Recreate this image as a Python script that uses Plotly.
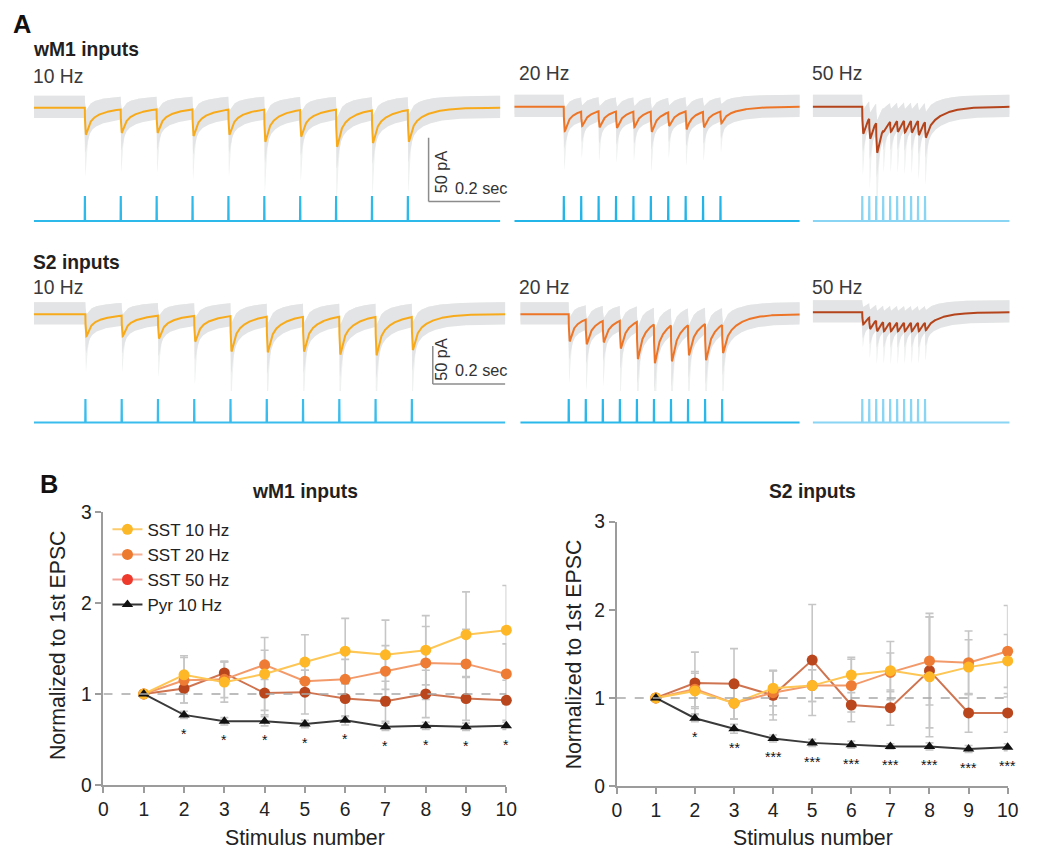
import numpy as np
import plotly.graph_objects as go

W, H = 1050, 859
FONT = "Arial, Liberation Sans, Helvetica, sans-serif"

# ---------------- DATA ----------------
pulse_onset_ms = 142
n_pulses = 10
dur_10hz_ms, dur_20hz_ms, dur_50hz_ms = 1300, 820, 565
wm1_10hz_pA = [21, 19.5, 19.5, 22, 21, 26.5, 22.5, 30.5, 27.5, 26.5]
wm1_20hz_pA = [19, 15, 16, 16.5, 16, 19.5, 15, 17.5, 16, 13]
wm1_50hz_pA = [21, 25, 36, 19, 19.5, 19.5, 20, 20, 22, 24]
s2_10hz_pA = [29, 29, 32, 36, 49, 50, 49, 53, 54, 47]
s2_20hz_pA = [35.5, 39.5, 37, 45, 59, 64.5, 62, 54, 60.5, 51]
s2_50hz_pA = [16, 22, 25, 25, 25, 25, 25, 25, 25, 23.5]
scalebar_pA, scalebar_ms = 50, 200

stim_number = [1, 2, 3, 4, 5, 6, 7, 8, 9, 10]
wm1_sst10 = [1, 1.21, 1.13, 1.22, 1.35, 1.47, 1.43, 1.48, 1.65, 1.70]
wm1_sst20 = [1, 1.15, 1.16, 1.32, 1.14, 1.16, 1.25, 1.34, 1.33, 1.22]
wm1_sst50 = [1, 1.06, 1.23, 1.01, 1.02, 0.95, 0.92, 1.00, 0.95, 0.93]
wm1_pyr10 = [1, 0.77, 0.70, 0.70, 0.67, 0.71, 0.64, 0.65, 0.64, 0.65]
wm1_sst10_err = [0, 0.21, 0.22, 0.40, 0.30, 0.36, 0.38, 0.38, 0.47, 0.49]
wm1_sst20_err = [0, 0.25, 0.20, 0.16, 0.12, 0.22, 0.28, 0.40, 0.38, 0.33]
wm1_sst50_err = [0, 0.16, 0.12, 0.24, 0.24, 0.20, 0.22, 0.26, 0.24, 0.22]
wm1_pyr10_err = [0, 0.04, 0.04, 0.05, 0.04, 0.05, 0.04, 0.04, 0.04, 0.04]
wm1_stars = ["", "*", "*", "*", "*", "*", "*", "*", "*", "*"]

s2_sst10 = [1, 1.08, 0.94, 1.11, 1.14, 1.26, 1.31, 1.24, 1.35, 1.42]
s2_sst20 = [1, 1.10, 0.94, 1.06, 1.14, 1.14, 1.29, 1.42, 1.40, 1.53]
s2_sst50 = [1, 1.17, 1.16, 1.03, 1.43, 0.92, 0.89, 1.31, 0.83, 0.83]
s2_pyr10 = [1, 0.77, 0.65, 0.54, 0.49, 0.47, 0.45, 0.45, 0.42, 0.44]
s2_sst10_err = [0, 0.20, 0.18, 0.20, 0.18, 0.20, 0.33, 0.68, 0.31, 0.30]
s2_sst20_err = [0, 0.20, 0.18, 0.25, 0.18, 0.30, 0.22, 0.50, 0.36, 0.52]
s2_sst50_err = [0, 0.35, 0.40, 0.28, 0.63, 0.19, 0.20, 0.65, 0.22, 0.22]
s2_pyr10_err = [0, 0.04, 0.05, 0.04, 0.04, 0.04, 0.03, 0.04, 0.04, 0.04]
s2_stars = ["", "*", "**", "***", "***", "***", "***", "***", "***", "***"]

legend_labels = ["SST 10 Hz", "SST 20 Hz", "SST 50 Hz", "Pyr 10 Hz"]

# ---------------- helpers ----------------
# positions below are given in reference-image pixels; the conversion
# compensates the small offset/scale observed between layout and snapshot
SX, OX, SY, OY = 0.99, 3.0, 0.978, 10.0

def PX(x):
    return ((x - OX) / SX) / W

def PY(y):
    return 1 - ((y - OY) / SY) / H

def fs(s):
    return round(s / ((SX + SY) / 2), 1)

TR, TF, TS, AF = 1.2, 8.0, 45.0, 0.55

def kern(s):
    s = np.asarray(s, dtype=float)
    sp = np.clip(s, 0, None)
    k = (1 - np.exp(-sp / TR)) * (AF * np.exp(-sp / TF) + (1 - AF) * np.exp(-sp / TS))
    return np.where(s > 0, k, 0.0)

def kfast(s):
    s = np.asarray(s, dtype=float)
    sp = np.clip(s, 0, None)
    return np.where(s > 0, (1 - np.exp(-sp / 1.0)) * np.exp(-sp / 4.0) / 0.55, 0.0)

_fine = np.arange(0, 60, 0.05)
_kf = kern(_fine)
KPEAK = _kf.max()
TPEAK = _fine[_kf.argmax()]

def kn(s):
    return kern(s) / KPEAK

def build_trace(freq, dur, depths, dt=0.5):
    isi = 1000.0 / freq
    tp = np.array([pulse_onset_ms + k * isi for k in range(n_pulses)])
    amps = []
    for k in range(n_pulses):
        r = sum(amps[j] * kn(tp[k] + TPEAK - tp[j]) for j in range(k))
        amps.append(max(depths[k] - float(r), 0.5))
    t = np.arange(0, dur + dt, dt)
    y = np.zeros_like(t)
    spike = np.zeros_like(t)
    for a, d, tk in zip(amps, depths, tp):
        y -= a * kn(t - tk)
        spike -= d * kfast(t - tk)
    stim = np.zeros_like(t)
    for tk in tp:
        stim[(t >= tk) & (t < tk + 1.0)] = 1.0
    return t, y, spike, stim

fig = go.Figure()
layout_axes = {}

panels = [
    (10, dur_10hz_ms, wm1_10hz_pA, 32, 501, 108, 1.28, 86, 206, 221.5, 197.5, (192, 226), "#F7AB1C", "#2DBAEA"),
    (20, dur_20hz_ms, wm1_20hz_pA, 515, 802, 107, 1.28, 86, 206, 221.5, 197.5, (192, 226), "#EC7528", "#24B5E8"),
    (50, dur_50hz_ms, wm1_50hz_pA, 815, 1013, 107, 1.28, 86, 206, 221.5, 197.5, (192, 226), "#B4441C", "#8AD4F4"),
    (10, dur_10hz_ms, s2_10hz_pA, 32, 506, 315, 0.76, 293, 392, 423.5, 401, (396, 428), "#F7AB1C", "#3ABDEC"),
    (20, dur_20hz_ms, s2_20hz_pA, 521, 802, 315, 0.76, 293, 392, 423.5, 401, (396, 428), "#EC7528", "#2AB7E9"),
    (50, dur_50hz_ms, s2_50hz_pA, 815, 1013, 313, 0.76, 293, 392, 423.5, 401, (396, 428), "#B4441C", "#8AD4F4"),
]

for i, (freq, dur, depths, x0, x1, base, gain, dtop, dbot, sbase, stop, sdom, col, scol) in enumerate(panels):
    xa = f"x{3 + i}"
    ya = f"y{3 + i}"
    ys = f"y{9 + i}"
    t, y, spike, stim = build_trace(freq, dur, depths)
    w = 12.0 / gain
    upper = 0.55 * y + w
    lower_in = y - 0.85 * w + 0.35 * spike
    lower_out = y - 0.6 * w + 1.4 * spike
    fig.add_trace(go.Scatter(x=np.concatenate([t, t[::-1]]), y=np.concatenate([upper, lower_out[::-1]]),
                             fill="toself", fillcolor="#EFF0F0", line=dict(width=0), mode="lines",
                             xaxis=xa, yaxis=ya, showlegend=False, hoverinfo="skip"))
    fig.add_trace(go.Scatter(x=np.concatenate([t, t[::-1]]), y=np.concatenate([upper, lower_in[::-1]]),
                             fill="toself", fillcolor="#E3E4E5", line=dict(width=0), mode="lines",
                             xaxis=xa, yaxis=ya, showlegend=False, hoverinfo="skip"))
    fig.add_trace(go.Scatter(x=t, y=y, mode="lines", line=dict(color=col, width=2),
                             xaxis=xa, yaxis=ya, showlegend=False))
    fig.add_trace(go.Scatter(x=t, y=stim, mode="lines", line=dict(color=scol, width=2),
                             xaxis=xa, yaxis=ys, showlegend=False))
    layout_axes[f"xaxis{3 + i}"] = dict(domain=[PX(x0), PX(x1)], range=[0, dur], visible=False,
                                        anchor=ya, fixedrange=True)
    layout_axes[f"yaxis{3 + i}"] = dict(domain=[PY(dbot), PY(dtop)],
                                        range=[-(dbot - base) / gain, (base - dtop) / gain],
                                        visible=False, anchor=xa)
    spp = 1.0 / (sbase - stop)
    layout_axes[f"yaxis{9 + i}"] = dict(domain=[PY(sdom[1]), PY(sdom[0])],
                                        range=[-(sdom[1] - sbase) * spp, 1 + (stop - sdom[0]) * spp],
                                        visible=False, anchor=xa)

shapes = []
for xa, ya, ytop_pA in [("x3", "y3", -23.5), ("x6", "y6", -42.0)]:
    t0 = 1100
    shapes.append(dict(type="line", xref=xa, yref=ya, x0=t0, x1=t0, y0=ytop_pA, y1=ytop_pA - scalebar_pA,
                       line=dict(color="#8C8C8C", width=1.5)))
    shapes.append(dict(type="line", xref=xa, yref=ya, x0=t0, x1=t0 + scalebar_ms,
                       y0=ytop_pA - scalebar_pA, y1=ytop_pA - scalebar_pA,
                       line=dict(color="#8C8C8C", width=1.5)))

annotations = []

def txt(text, x, y, size, bold=False, xanchor="left", color="#222222", angle=0, yanchor="middle"):
    annotations.append(dict(text=f"<b>{text}</b>" if bold else text, x=PX(x), y=PY(y), xref="paper", yref="paper",
                            showarrow=False, xanchor=xanchor, yanchor=yanchor, textangle=angle,
                            font=dict(family=FONT, size=fs(size), color=color)))

txt("A", 9, 24, 25, bold=True, color="#111")
txt("wM1 inputs", 29, 50, 19, bold=True, color="#231F20")
txt("10 Hz", 29, 77, 19, color="#3A3A3A")
txt("20 Hz", 518, 74, 19, color="#3A3A3A")
txt("50 Hz", 812, 74, 19, color="#3A3A3A")
txt("S2 inputs", 29, 263, 19, bold=True, color="#231F20")
txt("10 Hz", 29, 288, 19, color="#3A3A3A")
txt("20 Hz", 518, 288, 19, color="#3A3A3A")
txt("50 Hz", 812, 288, 19, color="#3A3A3A")
txt("50 pA", 441, 172, 16, xanchor="center", angle=-90, color="#333")
txt("0.2 sec", 453, 188, 16, color="#333")
txt("50 pA", 441, 360, 16, xanchor="center", angle=-90, color="#333")
txt("0.2 sec", 453, 371, 16, color="#333")

AXC = "#9C9C9C"

def b_axes(xd, yd, xa, ya):
    return (dict(domain=xd, range=[0, 10], tickvals=list(range(0, 11)), ticks="outside", ticklen=6,
                 tickwidth=1.5, tickcolor=AXC, showline=True, linecolor=AXC, linewidth=2, showgrid=False,
                 zeroline=False, tickfont=dict(family=FONT, size=fs(19), color="#222"), anchor=ya,
                 fixedrange=True),
            dict(domain=yd, range=[0, 3], tickvals=[0, 1, 2, 3], ticks="outside", ticklen=6, tickwidth=1.5,
                 tickcolor=AXC, showline=True, linecolor=AXC, linewidth=2, showgrid=False, zeroline=False,
                 tickfont=dict(family=FONT, size=fs(19), color="#222"), anchor=xa, fixedrange=True))

layout_axes["xaxis"], layout_axes["yaxis"] = b_axes([PX(102), PX(507)], [PY(787), PY(513)], "x", "y")
layout_axes["xaxis2"], layout_axes["yaxis2"] = b_axes([PX(618), PX(1011)], [PY(788), PY(523)], "x2", "y2")

series_style = [
    ("#B9461D", "#CF7450", "circle"),
    ("#EE7C35", "#F39A6B", "circle"),
    ("#FDB727", "#FDC655", "circle"),
    ("#111111", "#3A3A3A", "triangle-up"),
]

for xa, ya, vals, errs, stars in [
    ("x", "y", [wm1_sst50, wm1_sst20, wm1_sst10, wm1_pyr10],
     [wm1_sst50_err, wm1_sst20_err, wm1_sst10_err, wm1_pyr10_err], wm1_stars),
    ("x2", "y2", [s2_sst50, s2_sst20, s2_sst10, s2_pyr10],
     [s2_sst50_err, s2_sst20_err, s2_sst10_err, s2_pyr10_err], s2_stars),
]:
    for v, e in zip(vals, errs):
        fig.add_trace(go.Scatter(x=stim_number, y=v, mode="markers",
                                 marker=dict(size=1, color="rgba(0,0,0,0)"),
                                 error_y=dict(type="data", array=e, visible=True, color="#C6C6C6",
                                              thickness=1.6, width=4),
                                 xaxis=xa, yaxis=ya, showlegend=False, cliponaxis=False, hoverinfo="skip"))
    shapes.append(dict(type="line", xref=xa, yref=ya, x0=0, x1=10, y0=1, y1=1, layer="above",
                       line=dict(color="#A8A8A8", width=1.5, dash="dash")))
    for v, (mc, lc, sym) in zip(vals, series_style):
        fig.add_trace(go.Scatter(x=stim_number, y=v, mode="lines+markers",
                                 line=dict(color=lc, width=2),
                                 marker=dict(color=mc, size=11 if sym == "circle" else 10, symbol=sym),
                                 xaxis=xa, yaxis=ya, showlegend=False, cliponaxis=False))
    pyr = vals[3]
    for xi, yi, s in zip(stim_number, pyr, stars):
        if s:
            annotations.append(dict(text=s, x=xi, y=yi, xref=xa, yref=ya, showarrow=False, yshift=-19,
                                    font=dict(family=FONT, size=14, color="#111")))

legend_style = [("#FBB829", "#FCCB6B", "circle"), ("#EC7A2F", "#F6B093", "circle"),
                ("#EE3A2C", "#F4A39B", "circle"), ("#111111", "#333333", "triangle-up")]
for lab, (mc, lc, sym) in zip(legend_labels, legend_style):
    fig.add_trace(go.Scatter(x=[None], y=[None], mode="lines+markers", name=lab,
                             line=dict(color=lc, width=2),
                             marker=dict(color=mc, size=11 if sym == "circle" else 10, symbol=sym),
                             xaxis="x", yaxis="y"))

txt("B", 36, 485, 25, bold=True, color="#111")
txt("wM1 inputs", 305, 493, 19, bold=True, xanchor="center", color="#231F20")
txt("S2 inputs", 815, 493, 19, bold=True, xanchor="center", color="#231F20")
txt("Stimulus number", 305, 840, 21, xanchor="center", color="#222")
txt("Stimulus number", 815, 840, 21, xanchor="center", color="#222")
txt("Normalized to 1st EPSC", 57, 647, 21, xanchor="center", angle=-90, color="#222")
txt("Normalized to 1st EPSC", 575, 656, 21, xanchor="center", angle=-90, color="#222")

fig.update_layout(
    width=W, height=H, margin=dict(l=0, r=0, t=0, b=0),
    paper_bgcolor="white", plot_bgcolor="rgba(0,0,0,0)",
    font=dict(family=FONT, color="#222"),
    showlegend=True,
    legend=dict(x=PX(106), y=PY(513), xanchor="left", yanchor="top", bgcolor="rgba(0,0,0,0)",
                font=dict(family=FONT, size=17, color="#222"), tracegroupgap=0, itemwidth=30),
    shapes=shapes, annotations=annotations,
    **layout_axes,
)

POST = ("var gd=document.getElementById('{plot_id}');"
        "gd.style.position='fixed';gd.style.left='0px';gd.style.top='0px';"
        "document.documentElement.style.margin='0';document.documentElement.style.padding='0';"
        "document.body.style.margin='0';document.body.style.padding='0';"
        "document.documentElement.style.overflow='hidden';document.body.style.overflow='hidden';")

fig.write_html("out.html", config={"displayModeBar": False}, post_script=POST)
